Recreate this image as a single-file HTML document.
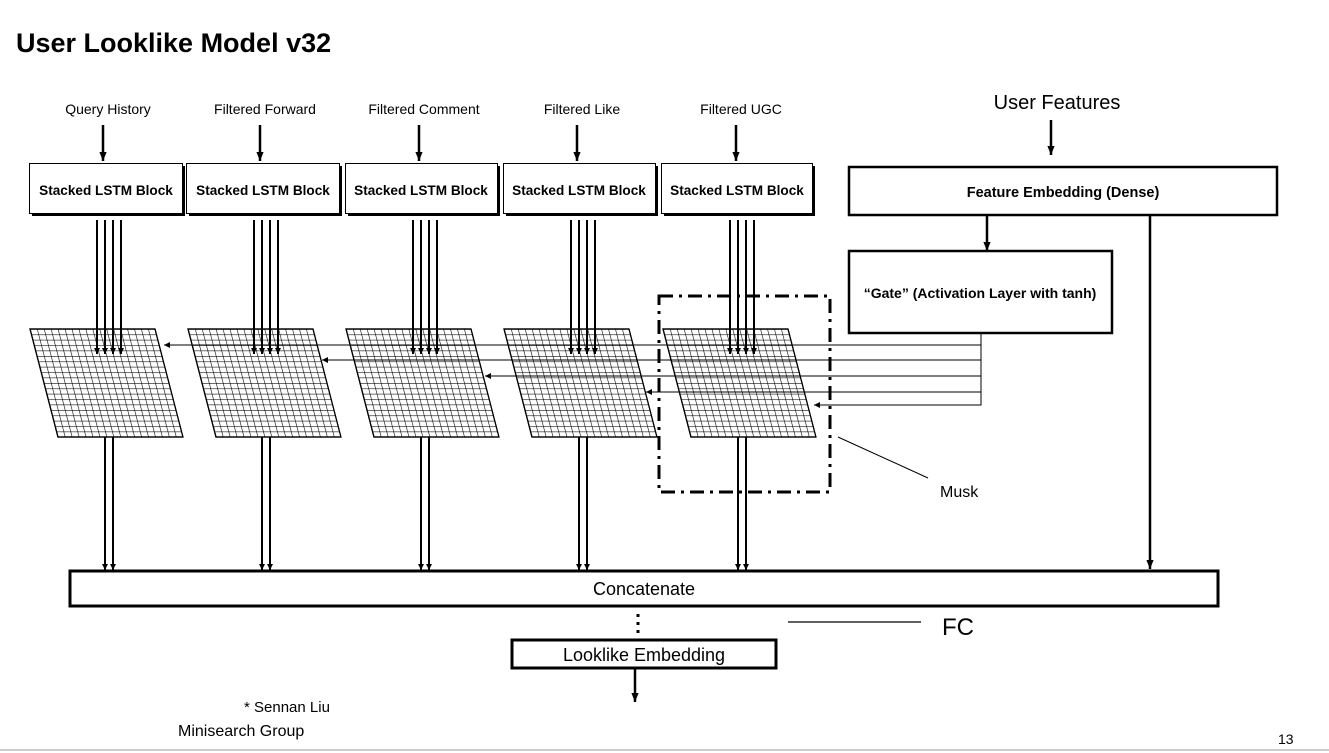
<!DOCTYPE html>
<html><head><meta charset="utf-8"><style>
html,body{margin:0;padding:0;background:#fff;}
svg{display:block;font-family:"Liberation Sans",Arial,sans-serif;}
</style></head><body>
<svg width="1329" height="753" viewBox="0 0 1329 753" xmlns="http://www.w3.org/2000/svg">
<defs>
<marker id="s" viewBox="0 0 10 10" refX="10" refY="5" markerWidth="6" markerHeight="6" orient="auto" markerUnits="userSpaceOnUse"><path d="M0,0L10,5L0,10z" fill="#000"/></marker>
<marker id="m" viewBox="0 0 10 10" refX="10" refY="5" markerWidth="9" markerHeight="9" orient="auto" markerUnits="userSpaceOnUse"><path d="M0,1L10,5L0,9z" fill="#000"/></marker>
<pattern id="g" width="6.944" height="5.4" patternUnits="userSpaceOnUse"><path d="M0,0V5.4M0,0H6.944" stroke="#000" stroke-width="1.2" fill="none"/></pattern>
</defs>
<rect width="1329" height="753" fill="#fff"/>
<text x="16" y="52" font-size="27" font-weight="bold">User Looklike Model v32</text>

<g font-size="14" text-anchor="middle">
<text x="108" y="114">Query History</text>
<text x="265" y="114">Filtered Forward</text>
<text x="424" y="114">Filtered Comment</text>
<text x="582" y="114">Filtered Like</text>
<text x="741" y="114">Filtered UGC</text>
</g>
<g stroke="#000" stroke-width="2.5" marker-end="url(#m)">
<line x1="103" y1="125" x2="103" y2="161"/>
<line x1="260" y1="125" x2="260" y2="161"/>
<line x1="419" y1="125" x2="419" y2="161"/>
<line x1="577" y1="125" x2="577" y2="161"/>
<line x1="736" y1="125" x2="736" y2="161"/>
<line x1="1051" y1="120" x2="1051" y2="155"/>
<line x1="987" y1="216" x2="987" y2="251"/>
<line x1="1150" y1="216" x2="1150" y2="569"/>
<line x1="635" y1="668" x2="635" y2="702"/>
</g>

<g stroke="#000" fill="#fff">
<rect x="32" y="166" width="153" height="50" fill="#000" stroke="none"/>
<rect x="29.5" y="163.5" width="153" height="50" stroke-width="1"/>
<rect x="189" y="166" width="153" height="50" fill="#000" stroke="none"/>
<rect x="186.5" y="163.5" width="153" height="50" stroke-width="1"/>
<rect x="348" y="166" width="152" height="50" fill="#000" stroke="none"/>
<rect x="345.5" y="163.5" width="152" height="50" stroke-width="1"/>
<rect x="506" y="166" width="152" height="50" fill="#000" stroke="none"/>
<rect x="503.5" y="163.5" width="152" height="50" stroke-width="1"/>
<rect x="664" y="166" width="151" height="50" fill="#000" stroke="none"/>
<rect x="661.5" y="163.5" width="151" height="50" stroke-width="1"/>
<rect x="849" y="167" width="428" height="48" stroke-width="2.5"/>
<rect x="849" y="251" width="263" height="82" stroke-width="2.5"/>
</g>
<g font-size="13.6" font-weight="bold" text-anchor="middle">
<text x="106" y="195">Stacked LSTM Block</text>
<text x="263" y="195">Stacked LSTM Block</text>
<text x="421" y="195">Stacked LSTM Block</text>
<text x="579" y="195">Stacked LSTM Block</text>
<text x="737" y="195">Stacked LSTM Block</text>
<text x="1063" y="197" font-size="14.5">Feature Embedding (Dense)</text>
<text x="980" y="298" font-size="14">“Gate” (Activation Layer with tanh)</text>
</g>
<text x="1057" y="109" font-size="20" text-anchor="middle">User Features</text>

<g stroke="#000" stroke-width="1.2">
<g transform="translate(30,329) skewX(14.5)"><rect width="125" height="108" fill="url(#g)"/><rect width="125" height="108" fill="none"/></g>
<g transform="translate(188,329) skewX(14.5)"><rect width="125" height="108" fill="url(#g)"/><rect width="125" height="108" fill="none"/></g>
<g transform="translate(346,329) skewX(14.5)"><rect width="125" height="108" fill="url(#g)"/><rect width="125" height="108" fill="none"/></g>
<g transform="translate(504,329) skewX(14.5)"><rect width="125" height="108" fill="url(#g)"/><rect width="125" height="108" fill="none"/></g>
<g transform="translate(663,329) skewX(14.5)"><rect width="125" height="108" fill="url(#g)"/><rect width="125" height="108" fill="none"/></g>
</g>

<g stroke="#000" stroke-width="2" marker-end="url(#s)">
<line x1="97" y1="220" x2="97" y2="354"/><line x1="105" y1="220" x2="105" y2="354"/><line x1="113" y1="220" x2="113" y2="354"/><line x1="121" y1="220" x2="121" y2="354"/>
<line x1="254" y1="220" x2="254" y2="354"/><line x1="262" y1="220" x2="262" y2="354"/><line x1="270" y1="220" x2="270" y2="354"/><line x1="278" y1="220" x2="278" y2="354"/>
<line x1="413" y1="220" x2="413" y2="354"/><line x1="421" y1="220" x2="421" y2="354"/><line x1="429" y1="220" x2="429" y2="354"/><line x1="437" y1="220" x2="437" y2="354"/>
<line x1="571" y1="220" x2="571" y2="354"/><line x1="579" y1="220" x2="579" y2="354"/><line x1="587" y1="220" x2="587" y2="354"/><line x1="595" y1="220" x2="595" y2="354"/>
<line x1="730" y1="220" x2="730" y2="354"/><line x1="738" y1="220" x2="738" y2="354"/><line x1="746" y1="220" x2="746" y2="354"/><line x1="754" y1="220" x2="754" y2="354"/>
<line x1="105" y1="437" x2="105" y2="570"/><line x1="113" y1="437" x2="113" y2="570"/>
<line x1="262" y1="437" x2="262" y2="570"/><line x1="270" y1="437" x2="270" y2="570"/>
<line x1="421" y1="437" x2="421" y2="570"/><line x1="429" y1="437" x2="429" y2="570"/>
<line x1="579" y1="437" x2="579" y2="570"/><line x1="587" y1="437" x2="587" y2="570"/>
<line x1="738" y1="437" x2="738" y2="570"/><line x1="746" y1="437" x2="746" y2="570"/>
</g>

<line x1="981" y1="333" x2="981" y2="405.5" stroke="#000" stroke-width="1"/>
<g stroke="#000" stroke-width="1" marker-end="url(#s)">
<line x1="981" y1="345" x2="164" y2="345"/>
<line x1="981" y1="360" x2="322" y2="360"/>
<line x1="981" y1="376" x2="485" y2="376"/>
<line x1="981" y1="392" x2="646" y2="392"/>
<line x1="981" y1="405" x2="814" y2="405"/>
</g>

<rect x="659" y="296" width="171" height="196" fill="none" stroke="#000" stroke-width="3" stroke-dasharray="14 6 3 6"/>
<line x1="838" y1="437" x2="928" y2="478" stroke="#000" stroke-width="1"/>
<text x="940" y="497" font-size="16">Musk</text>

<rect x="70" y="571" width="1148" height="35" fill="none" stroke="#000" stroke-width="3"/>
<text x="644" y="595" font-size="18" text-anchor="middle">Concatenate</text>
<line x1="638" y1="614" x2="638" y2="634" stroke="#000" stroke-width="3" stroke-dasharray="3 5"/>
<line x1="788" y1="622" x2="921" y2="622" stroke="#000" stroke-width="1.2"/>
<text x="942" y="635" font-size="24">FC</text>
<rect x="512" y="640" width="264" height="28" fill="none" stroke="#000" stroke-width="3"/>
<text x="644" y="661" font-size="18" text-anchor="middle">Looklike Embedding</text>

<text x="244" y="712" font-size="15">* Sennan Liu</text>
<text x="178" y="736" font-size="16">Minisearch Group</text>
<text x="1278" y="744" font-size="14">13</text>
<line x1="0" y1="750" x2="1329" y2="750" stroke="#ccc" stroke-width="2"/>
</svg>
</body></html>
